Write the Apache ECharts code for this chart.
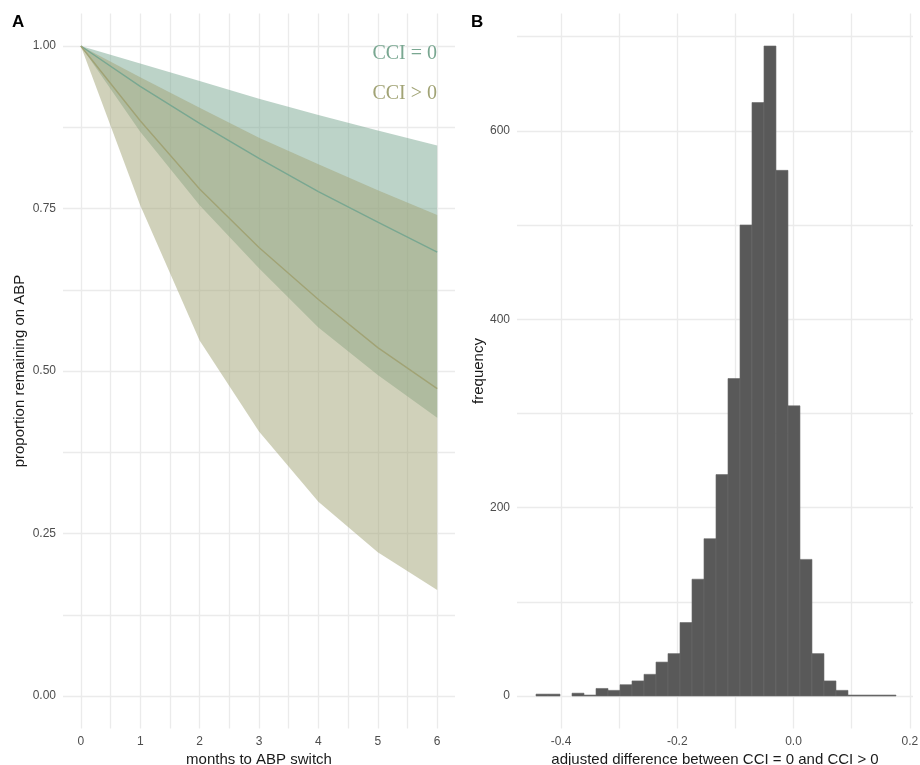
<!DOCTYPE html>
<html>
<head>
<meta charset="utf-8">
<script src="https://cdn.jsdelivr.net/npm/echarts@6/dist/echarts.min.js"></script>
<style>html,body{margin:0;padding:0;background:#fff}#c{width:920px;height:765px}</style>
</head>
<body>
<div id="c"></div>
<script>
// ---- Panel A data ----
const months = [0, 1, 2, 3, 4, 5, 6];
const cci0Mean  = [1, 0.938, 0.881, 0.827, 0.776, 0.729, 0.683];
const cci0Lower = [1, 0.868, 0.755, 0.658, 0.567, 0.494, 0.428];
const cci0Upper = [1, 0.973, 0.946, 0.919, 0.894, 0.870, 0.847];
const cciPMean  = [1, 0.885, 0.780, 0.690, 0.610, 0.536, 0.473];
const cciPLower = [1, 0.755, 0.547, 0.407, 0.299, 0.221, 0.163];
const cciPUpper = [1, 0.952, 0.905, 0.859, 0.818, 0.778, 0.740];
const aXLabels = [0, 1, 2, 3, 4, 5, 6];
const aYLabels = [0, 0.25, 0.5, 0.75, 1];

// ---- Panel B data (histogram, 30 bins) ----
const binStart = -0.443;
const binWidth = 0.02064;
const binCounts = [2, 2, 0, 3, 1, 8, 6, 12, 16, 23, 36, 45, 78, 124, 167,
                   235, 337, 500, 630, 690, 558, 308, 145, 45, 16, 6, 1, 1, 1, 1];
const bXLabels = [-0.4, -0.2, 0.0, 0.2];
const bYLabels = [0, 200, 400, 600];

const teal = '#79a791';
const olive = '#a1a375';
const gridColor = '#ebebeb';
const font = 'Liberation Sans';

function pairs(xs, ys) { return xs.map((x, i) => [x, ys[i]]); }
function range(a, b, step) { const r = []; for (let v = a; v <= b + 1e-9; v += step) r.push(+v.toFixed(4)); return r; }

const histData = binCounts.map((c, i) => [binStart + i * binWidth, binStart + (i + 1) * binWidth, c]);

function bandSeries(lower, upper, color) {
  const data = months.map((m, i) => [m, lower[i], upper[i]]);
  return {
    type: 'custom', xAxisIndex: 0, yAxisIndex: 0, data: data, silent: true,
    encode: { x: 0, y: [1, 2] },
    renderItem: function (params, api) {
      if (params.dataIndex !== 0) return null;
      const pts = [];
      for (let i = 0; i < data.length; i++) pts.push(api.coord([data[i][0], data[i][2]]));
      for (let i = data.length - 1; i >= 0; i--) pts.push(api.coord([data[i][0], data[i][1]]));
      return { type: 'polygon', shape: { points: pts }, style: { fill: color, opacity: 0.5 } };
    }
  };
}

const axisLabelStyle = { color: '#4d4d4d', fontSize: 12, fontFamily: font };
const nameStyle = { color: '#1a1a1a', fontSize: 15, fontFamily: font };

const chart = echarts.init(document.getElementById('c'), null, { renderer: 'canvas' });
chart.setOption({
  animation: false,
  backgroundColor: '#fff',
  title: [
    { text: 'A', left: 12, top: 14, padding: 0, textStyle: { fontSize: 17, fontWeight: 'bold', fontFamily: font, color: '#000' } },
    { text: 'B', left: 471, top: 14, padding: 0, textStyle: { fontSize: 17, fontWeight: 'bold', fontFamily: font, color: '#000' } }
  ],
  grid: [
    { left: 63, top: 13.5, width: 392, height: 715, outerBoundsMode: 'none', containLabel: false },
    { left: 517, top: 13.5, width: 396, height: 715, outerBoundsMode: 'none', containLabel: false }
  ],
  xAxis: [
    {
      gridIndex: 0, type: 'value', min: -0.3, max: 6.3,
      name: 'months to ABP switch', nameLocation: 'middle', nameGap: 19, nameTextStyle: nameStyle,
      axisLine: { show: false, onZero: false },
      axisTick: { show: false, customValues: range(0, 6, 0.5) },
      axisLabel: { customValues: aXLabels, margin: 7, ...axisLabelStyle, formatter: v => String(Math.round(v)) },
      splitLine: { show: true, lineStyle: { color: gridColor, width: 1.3 } }
    },
    {
      gridIndex: 1, type: 'value', min: -0.4757, max: 0.2055,
      name: 'adjusted difference between CCI = 0 and CCI > 0', nameLocation: 'middle', nameGap: 19, nameTextStyle: nameStyle,
      axisLine: { show: false, onZero: false },
      axisTick: { show: false, customValues: range(-0.4, 0.2, 0.1) },
      axisLabel: { customValues: bXLabels, margin: 7, ...axisLabelStyle, formatter: v => v.toFixed(1) },
      splitLine: { show: true, lineStyle: { color: gridColor, width: 1.3 } }
    }
  ],
  yAxis: [
    {
      gridIndex: 0, type: 'value', min: -0.05, max: 1.05,
      name: 'proportion remaining on ABP', nameLocation: 'middle', nameGap: 36, nameTextStyle: nameStyle,
      axisLine: { show: false, onZero: false },
      axisTick: { show: false, customValues: range(0, 1, 0.125) },
      axisLabel: { customValues: aYLabels, margin: 7, ...axisLabelStyle, formatter: v => v.toFixed(2) },
      splitLine: { show: true, lineStyle: { color: gridColor, width: 1.3 } }
    },
    {
      gridIndex: 1, type: 'value', min: -34.5, max: 724.5,
      name: 'frequency', nameLocation: 'middle', nameGap: 29, nameTextStyle: nameStyle,
      axisLine: { show: false, onZero: false },
      axisTick: { show: false, customValues: range(0, 700, 100) },
      axisLabel: { customValues: bYLabels, margin: 7, ...axisLabelStyle, formatter: v => String(Math.round(v)) },
      splitLine: { show: true, lineStyle: { color: gridColor, width: 1.3 } }
    }
  ],
  series: [
    bandSeries(cci0Lower, cci0Upper, teal),
    bandSeries(cciPLower, cciPUpper, olive),
    { type: 'line', xAxisIndex: 0, yAxisIndex: 0, data: pairs(months, cci0Mean),
      symbol: 'none', lineStyle: { color: teal, width: 1.4 }, z: 3 },
    { type: 'line', xAxisIndex: 0, yAxisIndex: 0, data: pairs(months, cciPMean),
      symbol: 'none', lineStyle: { color: olive, width: 1.4 }, z: 3 },
    {
      type: 'custom', xAxisIndex: 1, yAxisIndex: 1, data: histData,
      encode: { x: [0, 1], y: 2 },
      renderItem: function (params, api) {
        const c = api.value(2);
        if (!c) return null;
        const p0 = api.coord([api.value(0), c]);
        const p1 = api.coord([api.value(1), 0]);
        return {
          type: 'rect',
          shape: { x: p0[0], y: p0[1], width: p1[0] - p0[0], height: p1[1] - p0[1] },
          style: { fill: '#595959', stroke: '#6a6a6a', lineWidth: 0.6 }
        };
      }
    }
  ],
  graphic: [
    { type: 'text', z: 100, style: { text: 'CCI = 0', x: 437, y: 53.5, textAlign: 'right', textVerticalAlign: 'middle',
      fill: teal, fontSize: 20, fontFamily: 'Liberation Serif' } },
    { type: 'text', z: 100, style: { text: 'CCI > 0', x: 437, y: 93.5, textAlign: 'right', textVerticalAlign: 'middle',
      fill: olive, fontSize: 20, fontFamily: 'Liberation Serif' } }
  ]
});
</script>
</body>
</html>
